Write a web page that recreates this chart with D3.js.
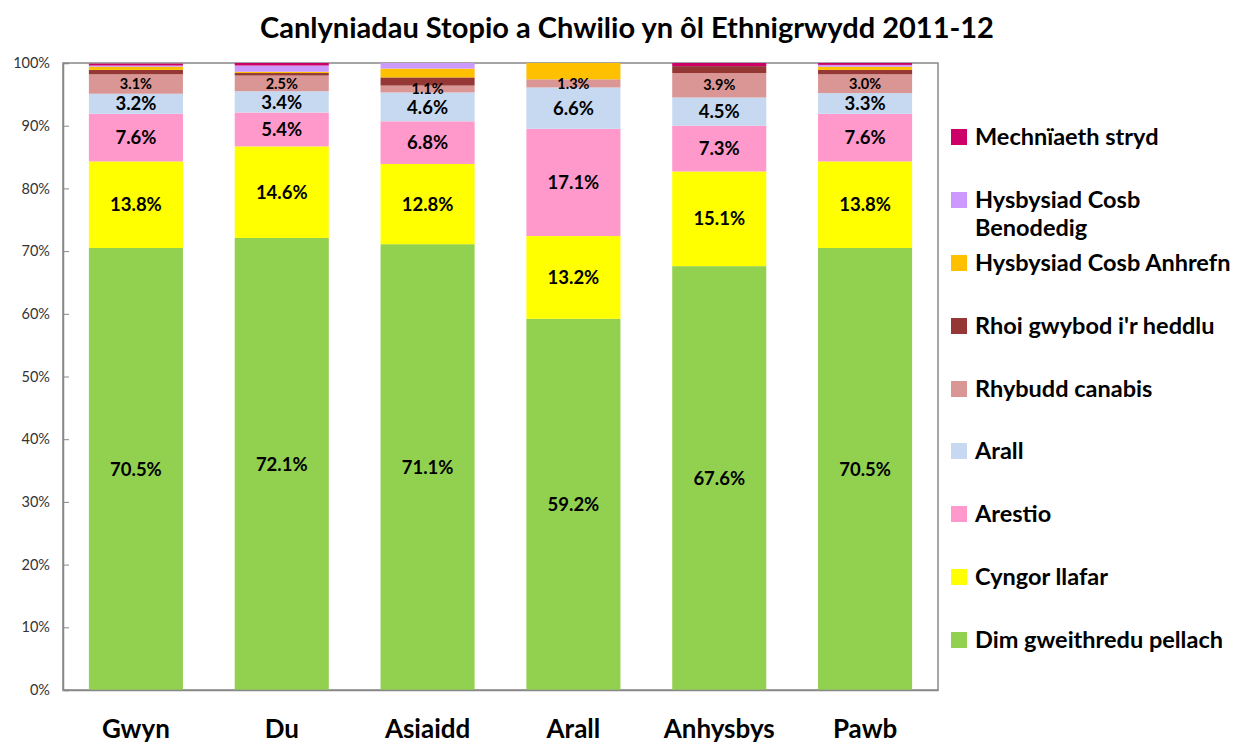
<!DOCTYPE html>
<html><head><meta charset="utf-8">
<script src="https://cdn.jsdelivr.net/npm/d3@7/dist/d3.min.js"></script>
<style>body{margin:0;background:#fff;} text{font-family:Lato,"Open Sans",sans-serif;}</style>
</head><body><svg id="c" width="1237" height="745"></svg>
<script>
const categories = ["Gwyn","Du","Asiaidd","Arall","Anhysbys","Pawb"];
const seriesNames = ["Dim gweithredu pellach","Cyngor llafar","Arestio","Arall","Rhybudd canabis","Rhoi gwybod i'r heddlu","Hysbysiad Cosb Anhrefn","Hysbysiad Cosb Benodedig","Mechnïaeth stryd"];
const colors = ["#92D050","#FFFF00","#FF99CC","#C6D9F1","#D99694","#953735","#FFC000","#CC99FF","#CC0066"];
const dimGweithredu = [70.5,72.1,71.1,59.2,67.6,70.5];
const cyngorLlafar  = [13.8,14.6,12.8,13.2,15.1,13.8];
const arestio       = [7.6,5.4,6.8,17.1,7.3,7.6];
const arall         = [3.2,3.4,4.6,6.6,4.5,3.3];
const rhybuddCanabis= [3.1,2.5,1.1,1.3,3.9,3.0];
const rhoiGwybod    = [0.7,0.4,1.3,0,1.1,0.7];
const hcAnhrefn     = [0.5,0.2,1.4,2.6,0,0.5];
const hcBenodedig   = [0.2,1.0,0.9,0,0,0.3];
const mechniaeth    = [0.3,0.4,0,0,0.5,0.3];
const yTicks = [0,10,20,30,40,50,60,70,80,90,100];
const labelled = [0,1,2,3,4];

const series = [dimGweithredu,cyngorLlafar,arestio,arall,rhybuddCanabis,rhoiGwybod,hcAnhrefn,hcBenodedig,mechniaeth];
const svg = d3.select("#c");
const L=63, R=938, T=63, B=690;
const x = d3.scaleBand().domain(categories).range([L,R]).paddingInner(0.355).paddingOuter(0.1775);
const y = d3.scaleLinear().domain([0,100]).range([B,T]);

svg.append("rect").attr("x",L).attr("y",T).attr("width",R-L).attr("height",B-T)
  .attr("fill","none").attr("stroke","#888").attr("stroke-width",1.5);

const rows = categories.map((c,i)=>{const o={cat:c}; seriesNames.forEach((s,j)=>o[s]=series[j][i]); return o;});
const stacked = d3.stack().keys(seriesNames)(rows);

const g = svg.append("g");
stacked.forEach((layer,j)=>{
  g.selectAll(null).data(layer).join("rect")
    .attr("x",d=>x(d.data.cat)).attr("width",x.bandwidth())
    .attr("y",d=>y(d[1])).attr("height",d=>y(d[0])-y(d[1]))
    .attr("fill",colors[j]);
});
labelled.forEach(j=>{
  g.selectAll(null).data(stacked[j]).join("text")
    .attr("x",d=>x(d.data.cat)+x.bandwidth()/2)
    .attr("y",d=>(y(d[0])+y(d[1]))/2)
    .attr("dy","0.36em").attr("text-anchor","middle")
    .attr("font-weight","bold").attr("font-size", j===4?14.5:18.5).attr("fill","#000")
    .text(d=>(d[1]-d[0]).toFixed(1)+"%");
});

const ya = svg.append("g").attr("transform",`translate(${L},0)`)
  .call(d3.axisLeft(y).tickValues(yTicks).tickFormat(d=>d+"%").tickSize(-6).tickPadding(13));
ya.select(".domain").attr("stroke","#888").attr("stroke-width",1.5);
ya.selectAll(".tick line").attr("stroke","#888");
ya.selectAll("text").attr("font-size",14.5).attr("fill","#333").attr("font-family","'Open Sans',sans-serif");

const xa = svg.append("g").attr("transform",`translate(0,${B})`)
  .call(d3.axisBottom(x).tickSize(0).tickPadding(0));
xa.select(".domain").attr("stroke","#888").attr("stroke-width",1.5);
xa.selectAll("text").attr("dy",null).attr("y",48).attr("font-size",26).attr("font-weight","bold").attr("fill","#000");

svg.append("text").attr("x",627).attr("y",38).attr("text-anchor","middle")
  .attr("font-size",29).attr("font-weight","bold").text("Canlyniadau Stopio a Chwilio yn ôl Ethnigrwydd 2011-12");

const legendY = [137,200,263,326,389,451,514,577,640];
const order = [8,7,6,5,4,3,2,1,0];
order.forEach((j,k)=>{
  const yy = legendY[k];
  svg.append("rect").attr("x",951).attr("y",yy-8).attr("width",16).attr("height",16).attr("fill",colors[j]);
  const t = svg.append("text").attr("x",975).attr("y",yy)
    .attr("font-size",23.5).attr("font-weight","bold").attr("fill","#000");
  if(j===7){
    t.append("tspan").attr("x",975).attr("y",yy).attr("dy","0.36em").text("Hysbysiad Cosb");
    t.append("tspan").attr("x",975).attr("y",yy+28).attr("dy","0.36em").text("Benodedig");
  } else t.attr("dy","0.36em").text(seriesNames[j]);
});
</script></body></html>
